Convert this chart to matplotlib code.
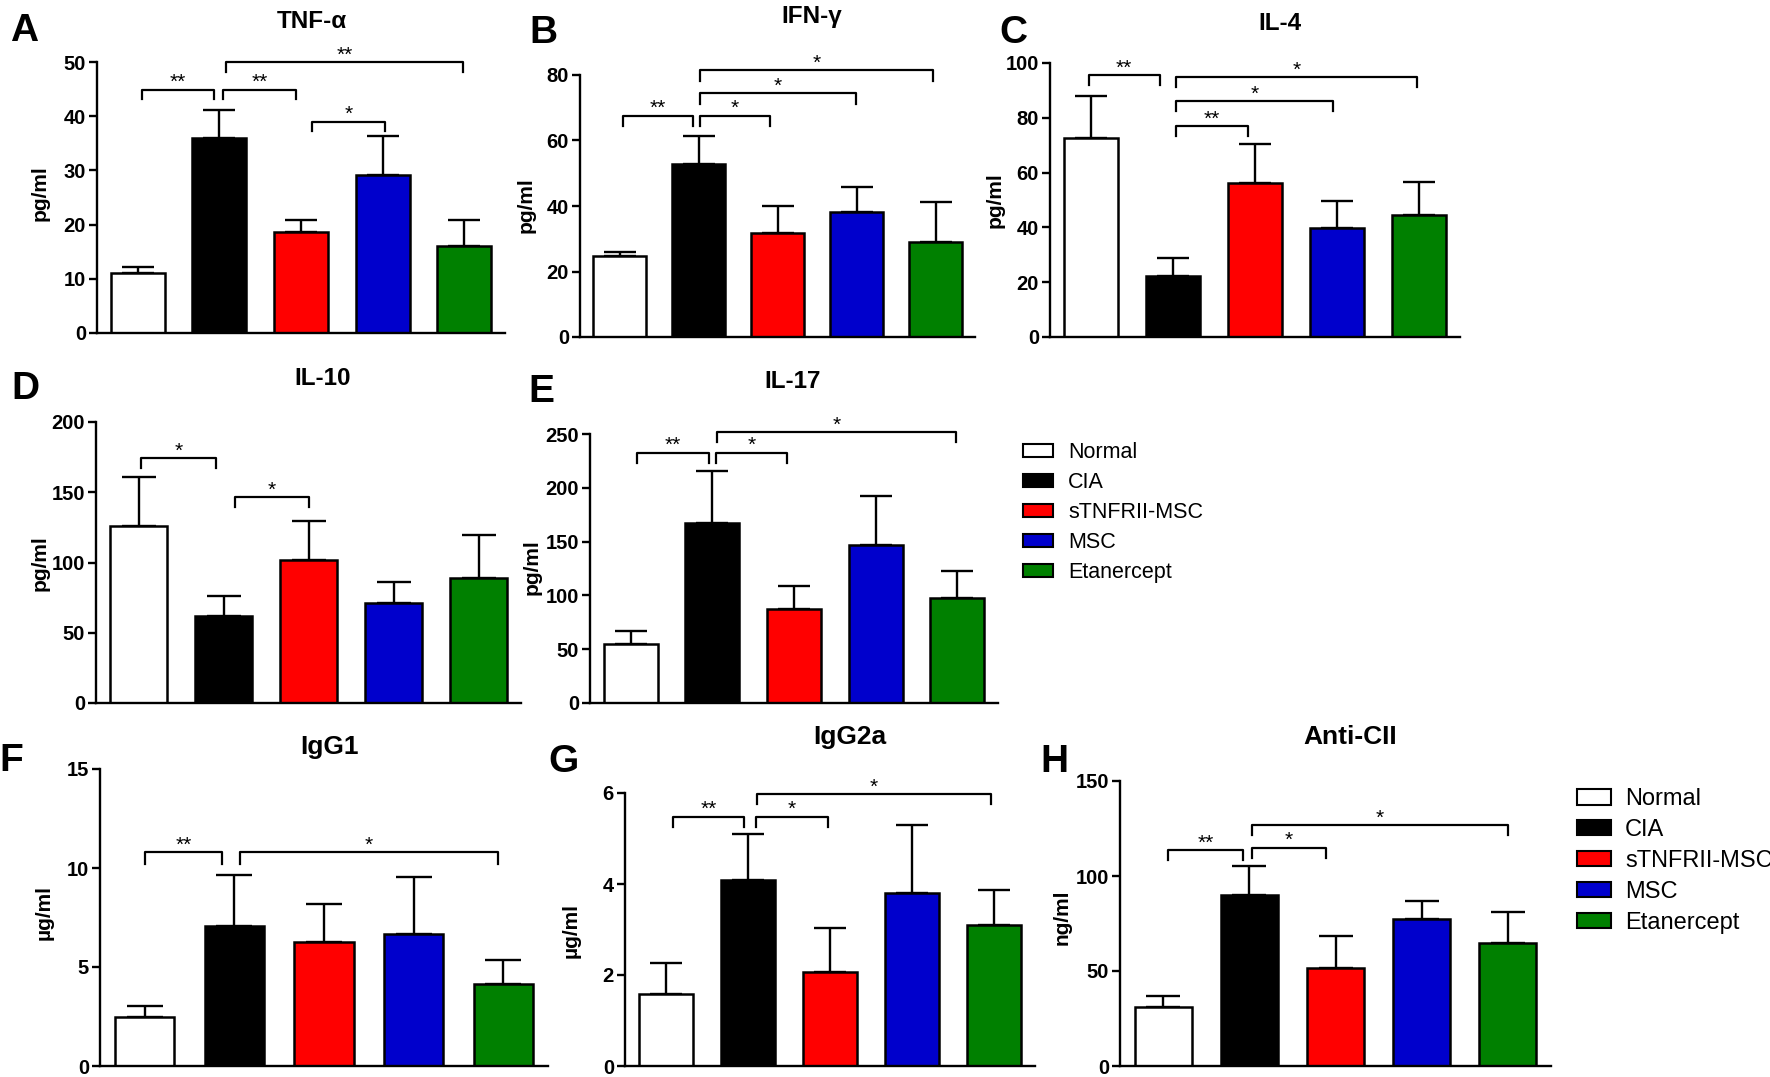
import numpy as np
import matplotlib
matplotlib.use("Agg")
from matplotlib import pyplot as plt
from matplotlib.patches import Patch

plt.rcParams["font.family"] = ["Liberation Sans", "DejaVu Sans"]

W, H = 1770, 1077   # output size in pixels (dpi 100)

groups = ["Normal", "CIA", "sTNFRII-MSC", "MSC", "Etanercept"]
colors = ["#ffffff", "#000000", "#ff0000", "#0000cc", "#008000"]

# means and top of error bar (mean + SEM)
tnf_mean = [11.0, 36.0, 18.7, 29.1, 16.1]
tnf_top = [12.2, 41.2, 20.9, 36.3, 20.9]
ifn_mean = [24.8, 52.8, 31.7, 38.3, 28.9]
ifn_top = [26.1, 61.4, 39.9, 45.9, 41.1]
il4_mean = [72.6, 22.2, 56.3, 39.6, 44.5]
il4_top = [87.8, 28.7, 70.4, 49.6, 56.7]
il10_mean = [126.3, 61.8, 101.8, 71.3, 88.7]
il10_top = [160.8, 76.1, 129.8, 86.3, 119.6]
il17_mean = [54.8, 167.0, 87.3, 147.0, 98.0]
il17_top = [67.1, 216.0, 108.9, 192.4, 123.0]
igg1_mean = [2.46, 7.07, 6.27, 6.69, 4.15]
igg1_top = [3.01, 9.67, 8.16, 9.53, 5.35]
igg2a_mean = [1.59, 4.09, 2.07, 3.80, 3.09]
igg2a_top = [2.27, 5.10, 3.03, 5.30, 3.86]
cii_mean = [31.2, 90.1, 51.6, 77.5, 64.8]
cii_top = [36.8, 105.5, 68.3, 87.0, 80.9]

# significance brackets: (x from, x to, height, label)
tnf_sig = [(0.05, 0.93, 44.9, "**"), (1.05, 1.94, 44.9, "**"),
           (2.14, 3.03, 39.0, "*"), (1.08, 3.99, 50.0, "**")]
ifn_sig = [(0.05, 0.93, 67.6, "**"), (1.02, 1.90, 67.6, "*"),
           (1.02, 2.99, 74.4, "*"), (1.02, 3.97, 81.5, "*")]
il4_sig = [(-0.03, 0.84, 95.7, "**"), (1.04, 1.91, 77.1, "**"),
           (1.04, 2.95, 86.0, "*"), (1.04, 3.98, 94.8, "*")]
il10_sig = [(0.03, 0.91, 174.3, "*"), (1.13, 2.01, 146.3, "*")]
il17_sig = [(0.08, 0.96, 232.7, "**"), (1.05, 1.92, 232.7, "*"),
            (1.06, 3.98, 252.0, "*")]
igg1_sig = [(0.0, 0.86, 10.8, "**"), (1.06, 3.94, 10.8, "*")]
igg2a_sig = [(0.09, 0.95, 5.48, "**"), (1.10, 1.97, 5.48, "*"),
             (1.11, 3.96, 5.97, "*")]
cii_sig = [(0.06, 0.93, 113.8, "**"), (1.03, 1.89, 115.0, "*"),
           (1.03, 4.00, 126.9, "*")]

fig = plt.figure(figsize=(W / 100, H / 100), dpi=100)


def px_text(x, y, s, **kw):
    fig.text(x / W, 1 - y / H, s, ha="center", va="center", **kw)


def panel(box, mean, top, ymax, step, sig, drop, unit, letter, title, pos):
    left, right, ytop, ybot = box
    ax = fig.add_axes([left / W, 1 - ybot / H, (right - left) / W, (ybot - ytop) / H])
    x = np.arange(len(groups))
    mean = np.array(mean)
    top = np.array(top)
    ax.bar(x, mean, width=0.66, color=colors, edgecolor="black", linewidth=1.8, zorder=2)
    # cap half width ~0.2 data units, converted to points
    cap = 0.2 * (right - left) / 5.0 * 0.72
    ax.errorbar(x, mean, yerr=[np.zeros_like(mean), top - mean], fmt="none",
                ecolor="black", elinewidth=1.7, capsize=cap, capthick=1.7, zorder=1)
    ax.set_xlim(-0.5, 4.5)
    ax.set_ylim(0, ymax)
    ax.set_yticks(np.arange(0, ymax + step / 2, step))
    ax.set_xticks([])
    for s in ["top", "right"]:
        ax.spines[s].set_visible(False)
    for s in ["left", "bottom"]:
        ax.spines[s].set_linewidth(1.7)
    ax.tick_params(axis="y", direction="out", length=6, width=1.7, pad=2, labelsize=14.5)
    for lab in ax.get_yticklabels():
        lab.set_fontweight("bold")
    for x0, x1, yb, lab in sig:
        ax.plot([x0, x0, x1, x1], [yb - drop, yb, yb, yb - drop], color="black",
                lw=1.6, clip_on=False, zorder=3)
        ax.annotate(lab, ((x0 + x1) / 2, yb), xytext=(0, 1), textcoords="offset points",
                    ha="center", va="baseline", fontsize=15, annotation_clip=False)
    tx, ty, lx, ly, ux, uy, tsize = pos
    px_text(tx, ty, title, fontsize=tsize, fontweight="bold")
    px_text(lx, ly, letter, fontsize=28, fontweight="bold")
    px_text(ux, uy, unit, fontsize=15, fontweight="bold", rotation=90)
    return ax


panel((97, 505, 62, 333), tnf_mean, tnf_top, 50, 10, tnf_sig, 1.8, "pg/ml", "A", "TNF-α",
      (312, 22, 24, 31, 40, 193, 17.5))
panel((580, 975, 75, 337), ifn_mean, ifn_top, 80, 20, ifn_sig, 3.2, "pg/ml", "B", "IFN-γ",
      (812, 17, 543, 33, 526, 205, 17.5))
panel((1050, 1460, 63, 337), il4_mean, il4_top, 100, 20, il4_sig, 3.7, "pg/ml", "C", "IL-4",
      (1280, 23, 1013, 33, 995, 200, 17.5))
panel((96, 521, 422, 703), il10_mean, il10_top, 200, 50, il10_sig, 7.1, "pg/ml", "D", "IL-10",
      (323, 379, 25, 389, 40, 563, 17.5))
panel((590, 998, 434, 703), il17_mean, il17_top, 250, 50, il17_sig, 9.3, "pg/ml", "E", "IL-17",
      (793, 382, 541, 392, 532, 567, 17.5))
panel((100, 548, 769, 1066), igg1_mean, igg1_top, 15, 5, igg1_sig, 0.58, "µg/ml", "F", "IgG1",
      (330, 747, 11, 761, 44, 912, 19))
panel((625, 1035, 793, 1066), igg2a_mean, igg2a_top, 6, 2, igg2a_sig, 0.22, "µg/ml", "G", "IgG2a",
      (850, 737, 564, 762, 571, 930, 19))
panel((1120, 1551, 781, 1066), cii_mean, cii_top, 150, 50, cii_sig, 5.3, "ng/ml", "H", "Anti-CII",
      (1350, 737, 1054, 762, 1062, 917, 19))

handles = [Patch(facecolor=c, edgecolor="black", linewidth=1.5) for c in colors]
fig.legend(handles, groups, loc="upper left", bbox_to_anchor=(1023 / W, 1 - 442 / H),
           frameon=False, fontsize=15.5, handlelength=1.4, handleheight=0.6,
           handletextpad=0.7, labelspacing=0.42, borderpad=0, borderaxespad=0)
fig.legend(handles, groups, loc="upper left", bbox_to_anchor=(1577 / W, 1 - 788 / H),
           frameon=False, fontsize=17, handlelength=1.44, handleheight=0.64,
           handletextpad=0.6, labelspacing=0.38, borderpad=0, borderaxespad=0)

fig.savefig("out.png", dpi=100, facecolor="white")
